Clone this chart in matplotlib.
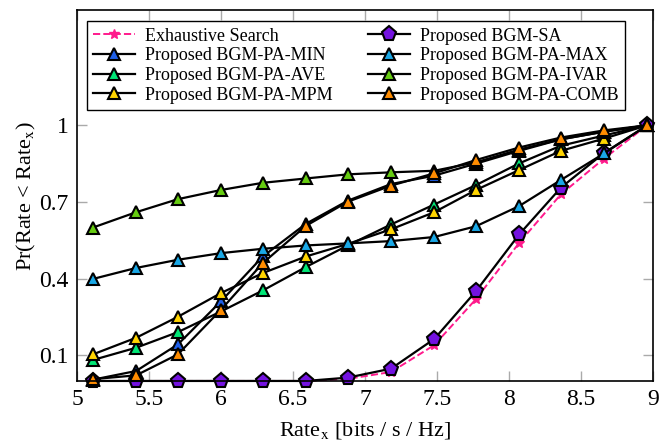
import matplotlib
matplotlib.use('Agg')
import matplotlib.pyplot as plt

plt.rcParams['font.family'] = ['Liberation Serif', 'DejaVu Serif']
plt.rcParams['mathtext.fontset'] = 'stix'

# rate thresholds (bits/s/Hz)
rate = [5.11, 5.41, 5.70, 6.00, 6.29, 6.59, 6.88, 7.18, 7.48, 7.77, 8.07, 8.36, 8.66, 8.96]

# CDF values
exhaustive = [0, 0, 0, 0, 0, 0, 0.008, 0.035, 0.14, 0.32, 0.54, 0.73, 0.87, 1.0]
sa = [0, 0, 0, 0, 0, 0, 0.013, 0.048, 0.164, 0.351, 0.573, 0.756, 0.892, 1.0]
pa_min = [0.005, 0.039, 0.143, 0.312, 0.487, 0.615, 0.705, 0.770, 0.803, 0.850, 0.900, 0.945, 0.975, 1.0]
pa_max = [0.399, 0.442, 0.474, 0.500, 0.517, 0.530, 0.538, 0.547, 0.563, 0.605, 0.684, 0.786, 0.890, 1.0]
pa_ave = [0.082, 0.130, 0.191, 0.272, 0.354, 0.446, 0.530, 0.612, 0.690, 0.766, 0.851, 0.920, 0.960, 1.0]
pa_ivar = [0.600, 0.660, 0.711, 0.747, 0.775, 0.792, 0.808, 0.816, 0.822, 0.855, 0.905, 0.945, 0.975, 1.0]
pa_mpm = [0.104, 0.169, 0.251, 0.344, 0.422, 0.487, 0.536, 0.593, 0.660, 0.747, 0.825, 0.900, 0.948, 1.0]
pa_comb = [0.007, 0.022, 0.104, 0.279, 0.461, 0.607, 0.701, 0.764, 0.812, 0.864, 0.913, 0.952, 0.980, 1.0]

fig = plt.figure(figsize=(6.59, 4.44), dpi=100)
ax = fig.add_axes([0.117, 0.142, 0.874, 0.835])

lw = 1.6
mew = 1.5
kw = dict(color='black', lw=lw, markeredgecolor='black', markeredgewidth=mew, clip_on=False)

ax.plot(rate, exhaustive, '--', color='#ff1a8c', lw=1.4, marker='*', markersize=7,
        markerfacecolor='#ff1a8c', markeredgecolor='#ff1a8c', label='Exhaustive Search', clip_on=False, zorder=2)
ax.plot(rate, pa_min, marker='^', markersize=9, markerfacecolor='#1f5fe8', label='Proposed BGM-PA-MIN', **kw)
ax.plot(rate, pa_ave, marker='^', markersize=9, markerfacecolor='#00e676', label='Proposed BGM-PA-AVE', **kw)
ax.plot(rate, pa_mpm, marker='^', markersize=9, markerfacecolor='#ffd400', label='Proposed BGM-PA-MPM', **kw)
ax.plot(rate, sa, marker='p', markersize=11, markerfacecolor='#7412e0', label='Proposed BGM-SA', **kw)
ax.plot(rate, pa_max, marker='^', markersize=9, markerfacecolor='#1aa8e6', label='Proposed BGM-PA-MAX', **kw)
ax.plot(rate, pa_ivar, marker='^', markersize=9, markerfacecolor='#66cc11', label='Proposed BGM-PA-IVAR', **kw)
ax.plot(rate, pa_comb, marker='^', markersize=9, markerfacecolor='#ff8c00', label='Proposed BGM-PA-COMB', **kw)

ax.set_xlim(5, 9)
ax.set_ylim(0, 1.45)
ax.set_xticks([5, 5.5, 6, 6.5, 7, 7.5, 8, 8.5, 9])
ax.set_xticklabels(['5', '5.5', '6', '6.5', '7', '7.5', '8', '8.5', '9'])
ax.set_yticks([0.1, 0.4, 0.7, 1.0])
ax.set_yticklabels(['0.1', '0.4', '0.7', '1'])
ax.tick_params(direction='in', length=7, width=1, color='#aaaaaa', labelsize=17,
               top=True, right=True, pad=6)
for s in ax.spines.values():
    s.set_linewidth(1.2)

ax.set_xlabel(r'Rate$_\mathrm{x}$ [bits / s / Hz]', fontsize=16, labelpad=7)
ax.set_ylabel(r'Pr(Rate < Rate$_\mathrm{x}$)', fontsize=16, labelpad=1)

leg = ax.legend(loc='upper left', bbox_to_anchor=(0.017, 0.970), ncol=2, fontsize=13,
                frameon=True, fancybox=False, edgecolor='black', framealpha=1,
                handlelength=2.3, handletextpad=0.55, columnspacing=2.0,
                labelspacing=0.15, borderpad=0.35, borderaxespad=0)
leg.get_frame().set_linewidth(1.0)

fig.savefig('out.png', dpi=100)
